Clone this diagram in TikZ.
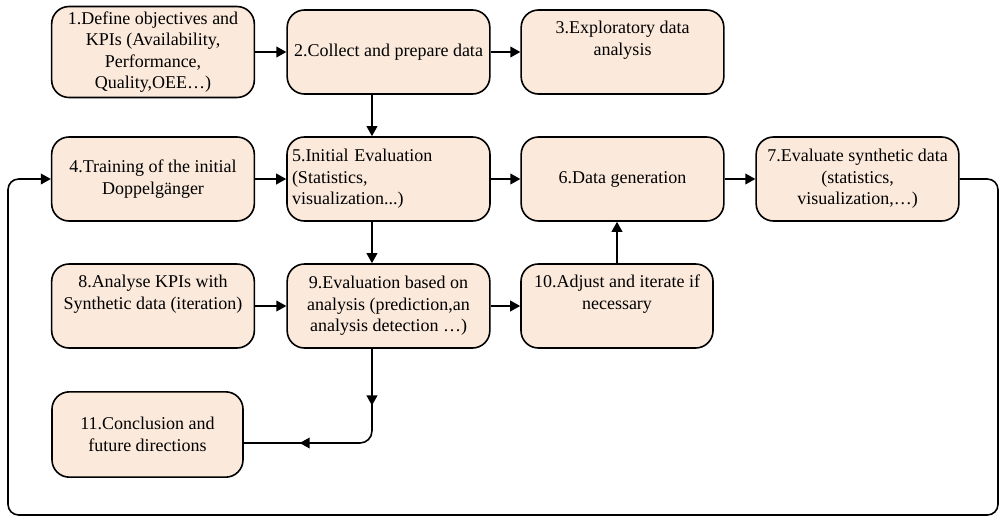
\documentclass[tikz,border=0pt]{standalone}
\usepackage{fontspec}
\setmainfont{Liberation Serif}
\usetikzlibrary{arrows.meta,decorations.markings}
\definecolor{boxfill}{RGB}{251,233,219}
\tikzset{
  box/.style={draw=black, line width=1.2pt, fill=boxfill, rounded corners=13pt,
    minimum width=152pt, minimum height=63pt, inner sep=3.75pt, align=center,
    font=\fontsize{13.5pt}{16.1pt}\selectfont},
  conn/.style={line width=1.2pt, -{Triangle[length=7.5pt,width=8pt]}},
  plain/.style={line width=1.2pt},
  midarrows/.style={postaction={decorate}, decoration={markings,
    mark=at position 0.26 with {\arrow{Triangle[length=7.5pt,width=8pt]}},
    mark=at position 0.74 with {\arrow{Triangle[length=7.5pt,width=8pt]}}}}
}
\begin{document}
\begin{tikzpicture}[x=0.75pt,y=-0.75pt]
\useasboundingbox (0,0) rectangle (1000,518);
% row 1
\node[box] (b1) at (153,52) {1.Define objectives and\\KPIs (Availability,\\Performance,\\Quality,OEE…)};
\node[box] (b2) at (388.5,52) {2.Collect and prepare data};
\node[box] (b3) at (622.5,52) {3.Exploratory data\\analysis\\\strut};
% row 2
\node[box] (b4) at (153,179) {4.Training of the initial\\Doppelgänger};
\node[box, align=left, text width=144.75pt] (b5) at (388.5,179) {5.Initial Evaluation\\(Statistics,\\visualization...)};
\node[box] (b6) at (622.5,179) {6.Data generation};
\node[box] (b7) at (857.5,179) {7.Evaluate synthetic data\\(statistics,\\visualization,…)};
% row 3
\node[box] (b8) at (153,306) {8.Analyse KPIs with\\Synthetic data (iteration)\\\strut};
\node[box] (b9) at (388.5,306) {9.Evaluation based on\\analysis (prediction,an\\analysis detection …)};
\node[box, minimum width=144pt] (b10) at (617,306) {10.Adjust and iterate if\\necessary\\\strut};
% row 4
\node[box, minimum width=143.25pt, minimum height=64pt] (b11) at (147.5,434.5) {11.Conclusion and\\future directions};
% connectors
\draw[conn] (b1) -- (b2);
\draw[conn] (b2) -- (b3);
\draw[conn] ([xshift=-12.4pt]b2.south) -- ([xshift=-12.4pt]b5.north);
\draw[conn] (b4) -- (b5);
\draw[conn] (b5) -- (b6);
\draw[conn] (b6) -- (b7);
\draw[conn] ([xshift=-12.4pt]b5.south) -- ([xshift=-12.4pt]b9.north);
\draw[conn] (b8) -- (b9);
\draw[conn] (b9) -- (b10);
\draw[conn] (b10.north) -- (b10.north |- b6.south);
% 9 -> 11 with mid arrows
\coordinate (c11) at (243,443);
\draw[plain, rounded corners=9pt, midarrows] ([xshift=-12.4pt]b9.south) |- (c11);
% feedback loop 7 -> 4
\coordinate (lpR) at (998,515);
\coordinate (lpL) at (8,515);
\draw[conn, rounded corners=8pt] (b7.east) -| (lpR) -- (lpL) |- (b4.west);
\end{tikzpicture}
\end{document}
